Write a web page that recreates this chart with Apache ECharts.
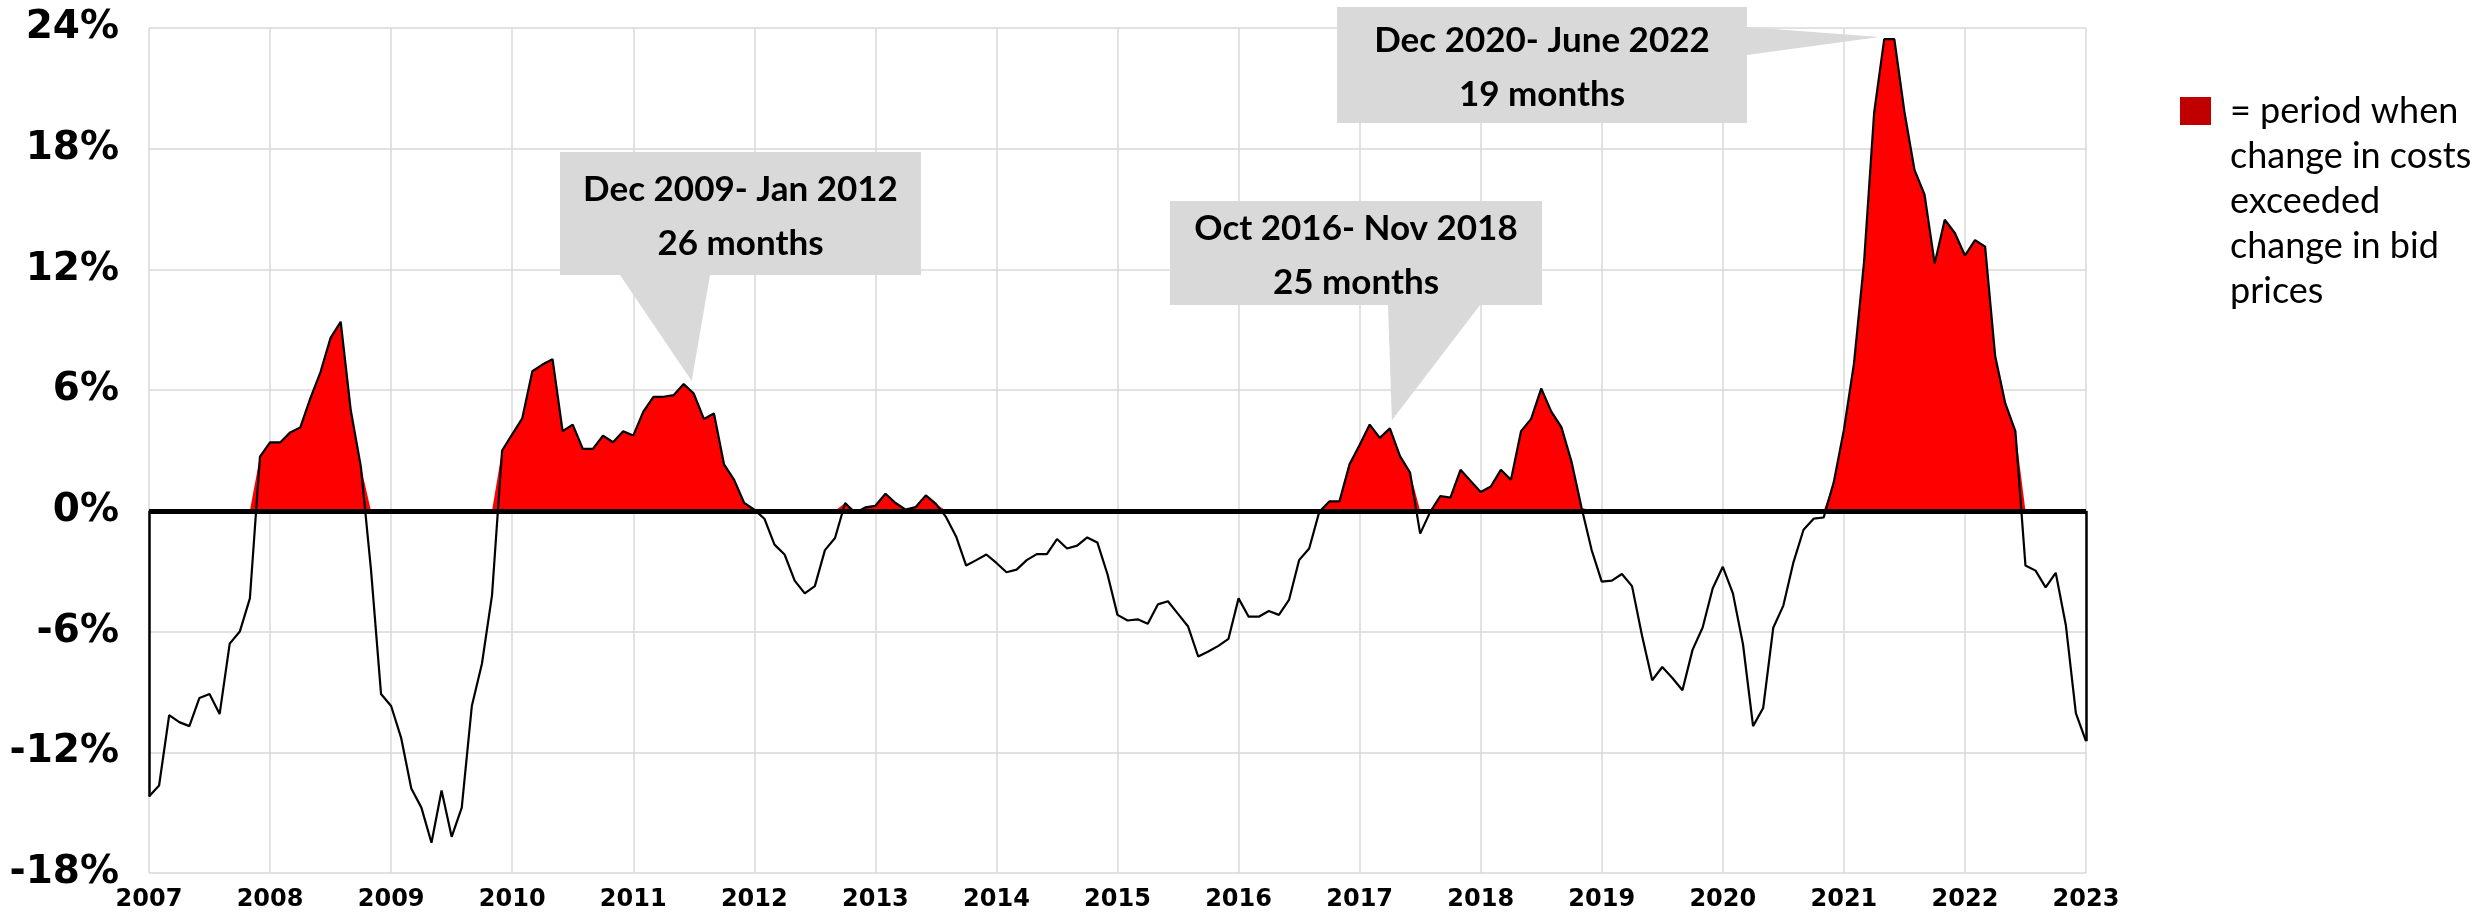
<!DOCTYPE html>
<html style="height: 100%">
    <head>
        <title>Costs vs bid prices</title>
        <meta charset="utf-8">
    </head>
    <body style="height: 100%; margin: 0; background: #ffffff">
        <div id="container" style="width:2486px;height:912px"></div>

        <script type="text/javascript" src="https://cdn.jsdelivr.net/npm/echarts@6/dist/echarts.min.js"></script>
        <script type="text/javascript">
// year tick labels on the x axis
var years = ['2007', '2008', '2009', '2010', '2011', '2012', '2013', '2014', '2015',
             '2016', '2017', '2018', '2019', '2020', '2021', '2022', '2023'];
var monthNums = ['01', '02', '03', '04', '05', '06', '07', '08', '09', '10', '11', '12'];

// change in costs minus change in bid prices, %, monthly Jan 2007 .. Jan 2023
var gap = [
    -14.2, -13.65, -10.15, -10.5, -10.7, -9.3, -9.1, -10.1, -6.6, -6.0, -4.35, 2.7,      // 2007
    3.4, 3.4, 3.9, 4.15, 5.6, 6.9, 8.6, 9.4, 5.0, 2.2, -2.9, -9.1,                        // 2008
    -9.7, -11.3, -13.8, -14.75, -16.5, -13.9, -16.2, -14.75, -9.7, -7.6, -4.2, 3.0,       // 2009
    3.8, 4.6, 6.94, 7.27, 7.54, 3.96, 4.29, 3.08, 3.08, 3.74, 3.41, 3.96,                 // 2010
    3.74, 4.93, 5.67, 5.67, 5.75, 6.3, 5.83, 4.57, 4.84, 2.31, 1.54, 0.39,                // 2011
    0.06, -0.39, -1.68, -2.17, -3.47, -4.1, -3.74, -1.95, -1.35, 0.39, -0.11, 0.17,       // 2012
    0.25, 0.85, 0.39, 0.06, 0.19, 0.77, 0.35, -0.3, -1.27, -2.72, -2.45, -2.17,           // 2013
    -2.59, -3.05, -2.92, -2.45, -2.15, -2.15, -1.4, -1.87, -1.73, -1.32, -1.57, -3.14,    // 2014
    -5.17, -5.45, -5.39, -5.61, -4.65, -4.49, -5.12, -5.75, -7.24, -6.99, -6.71, -6.36,   // 2015
    -4.35, -5.26, -5.26, -4.98, -5.17, -4.43, -2.45, -1.87, -0.05, 0.47, 0.47, 2.31,      // 2016
    3.27, 4.29, 3.63, 4.1, 2.72, 1.9, -1.13, -0.05, 0.74, 0.66, 2.04, 1.49,               // 2017
    0.94, 1.21, 2.04, 1.54, 3.96, 4.57, 6.08, 4.93, 4.16, 2.45, 0.15, -1.95,              // 2018
    -3.52, -3.47, -3.14, -3.74, -6.22, -8.42, -7.76, -8.31, -8.92, -6.91, -5.8, -3.85,    // 2019
    -2.78, -4.1, -6.63, -10.7, -9.8, -5.81, -4.71, -2.56, -0.94, -0.39, -0.33, 1.43,      // 2020
    4.02, 7.32, 12.36, 19.79, 23.45, 23.45, 19.84, 16.95, 15.71, 12.3, 14.47, 13.81,      // 2021
    12.69, 13.46, 13.13, 7.68, 5.34, 3.96, -2.72, -2.97, -3.8, -3.08, -5.67, -10.07,      // 2022
    -11.45                                                                                 // 2023
];

// callouts: text and the month their pointer aims at
var calloutText = ['Dec 2009- Jan 2012\n26 months', 'Oct 2016- Nov 2018\n25 months', 'Dec 2020- June 2022\n19 months'];
var calloutMonth = ['2011-06', '2017-04', '2021-05'];

var legendText = '= period when\nchange in costs\nexceeded\nchange in bid\nprices';

var months = [];
for (var y = 0; y < years.length - 1; y++) {
    for (var m = 0; m < 12; m++) {
        months.push(years[y] + '-' + monthNums[m]);
    }
}
months.push(years[years.length - 1] + '-01');

var positiveGap = gap.map(function (v) { return v > 0 ? v : 0; });
var last = gap.length - 1;

var dom = document.getElementById('container');
var myChart = echarts.init(dom, null, {renderer: 'canvas'});

var yearOnly = function (idx) { return idx % 12 === 0; };

var option = {
    animation: false,
    backgroundColor: '#ffffff',
    grid: {left: 149, right: 400, top: 28, bottom: 39},
    xAxis: {
        type: 'category',
        data: months,
        boundaryGap: false,
        axisLine: {show: false},
        axisTick: {show: false},
        axisLabel: {
            interval: yearOnly,
            formatter: function (v) { return v.slice(0, 4); },
            color: '#000',
            fontFamily: 'DejaVu Sans',
            fontWeight: 'bold',
            fontSize: 24,
            margin: 15
        },
        splitLine: {show: true, interval: yearOnly, lineStyle: {color: '#d9d9d9', width: 1.5}}
    },
    yAxis: {
        type: 'value',
        min: -18,
        max: 24,
        interval: 6,
        axisLine: {show: false},
        axisTick: {show: false},
        axisLabel: {
            formatter: '{value}%',
            color: '#000',
            fontFamily: 'DejaVu Sans',
            fontWeight: 'bold',
            fontSize: 39,
            margin: 30
        },
        splitLine: {lineStyle: {color: '#d9d9d9', width: 1.5}}
    },
    series: [{
        name: 'exceeded',
        type: 'line',
        data: positiveGap,
        symbol: 'none',
        silent: true,
        lineStyle: {width: 0},
        areaStyle: {color: '#ff0000', opacity: 1},
        z: 2
    }, {
        name: 'gap',
        type: 'line',
        data: gap,
        symbol: 'none',
        silent: true,
        lineStyle: {color: '#000', width: 2.2},
        z: 3,
        markLine: {
            symbol: 'none',
            silent: true,
            label: {show: false},
            lineStyle: {color: '#000', width: 2.5, type: 'solid'},
            data: [
                {yAxis: 0, lineStyle: {color: '#000', width: 5, type: 'solid'}},
                [{coord: [months[0], 0]}, {coord: [months[0], gap[0]]}],
                [{coord: [months[last], 0]}, {coord: [months[last], gap[last]]}]
            ]
        }
    }]
};
myChart.setOption(option);

// callout boxes (pixel layout), pointers aim at data points
var boxes = [
    {x: 560, y: 152, w: 361, h: 123, base: [[620, 275], [710, 275]], off: [8, -3]},
    {x: 1170, y: 201, w: 372, h: 104, base: [[1388, 305], [1480, 305]], off: [2, -8]},
    {x: 1337, y: 7, w: 410, h: 116, base: [[1747, 27], [1747, 55]], off: [-5, -2]}
];
var graphics = [];
for (var i = 0; i < boxes.length; i++) {
    var b = boxes[i];
    var idx = months.indexOf(calloutMonth[i]);
    var tip = myChart.convertToPixel({gridIndex: 0}, [months[idx], gap[idx]]);
    tip = [tip[0] + b.off[0], tip[1] + b.off[1]];
    graphics.push({
        type: 'polygon', z: 10,
        shape: {points: [b.base[0], b.base[1], tip]},
        style: {fill: '#d9d9d9'}
    });
    graphics.push({
        type: 'rect', z: 10,
        shape: {x: b.x, y: b.y, width: b.w, height: b.h},
        style: {fill: '#d9d9d9'}
    });
    graphics.push({
        type: 'text', z: 11,
        x: b.x + b.w / 2, y: b.y + b.h / 2 + 3,
        style: {
            text: calloutText[i], fill: '#000',
            fontFamily: 'Lato', fontWeight: 'bold', fontSize: 35,
            lineHeight: 54, align: 'center', verticalAlign: 'middle'
        }
    });
}
// legend
graphics.push({
    type: 'rect', z: 10,
    shape: {x: 2180, y: 97, width: 31, height: 28},
    style: {fill: '#c00000'}
});
graphics.push({
    type: 'text', z: 10,
    x: 2230, y: 89,
    style: {
        text: legendText, fill: '#000',
        fontFamily: 'Lato', fontSize: 36,
        lineHeight: 45, align: 'left', verticalAlign: 'top'
    }
});
myChart.setOption({graphic: graphics});
        </script>
    </body>
</html>
